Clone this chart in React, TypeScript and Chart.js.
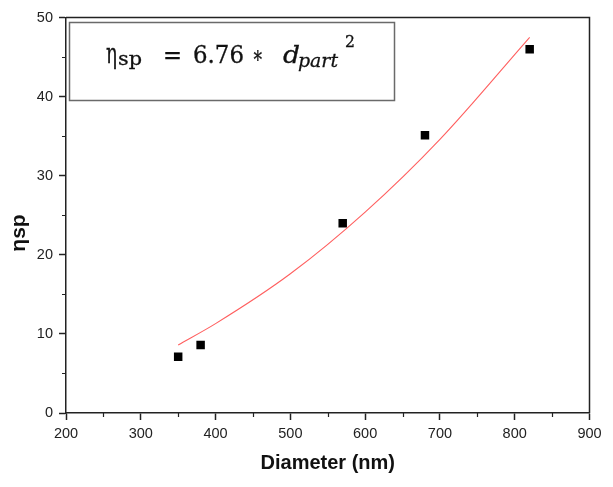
import { useEffect, useRef } from 'react';
import { Chart, registerables } from 'chart.js';

Chart.register(...registerables);

// Measured data points (diameter in nm, specific viscosity)
const diameters = [350, 380, 570, 680, 820];
const etaSp = [7.1, 8.6, 24.0, 35.1, 46.0];

// Fitted curve
const fitDiameters = [350, 400, 500, 600, 700, 820];
const fitEta = [8.6, 11.3, 17.6, 25.4, 34.6, 47.5];

const xMajorTicks = [200, 300, 400, 500, 600, 700, 800, 900];
const xMinorTicks = [250, 350, 450, 550, 650, 750, 850];
const yMajorTicks = [0, 10, 20, 30, 40, 50];
const yMinorTicks = [5, 15, 25, 35, 45];

const xTitle = 'Diameter (nm)';
const yTitle = 'ηsp';

// Formula pieces: text, font, left x, target width, baseline
const formulaPieces: [string, string, number, number, number][] = [
  ['η', '27px "DejaVu Serif"', 106, 11, 62.5],
  ['sp', '19px "DejaVu Serif"', 118, 24, 64.5],
  ['=', '24px "DejaVu Serif"', 163, 19, 62.5],
  ['6.76', '23.5px "DejaVu Serif"', 193, 51, 62.5],
  ['∗', '24px "DejaVu Serif"', 252, 11.5, 62.5],
  ['d', 'italic 24px "DejaVu Serif"', 283, 17, 62.5],
  ['part', 'italic 19px "DejaVu Serif"', 298, 40, 67],
  ['2', '17px "DejaVu Serif"', 345, 10, 47],
];

const decorPlugin = {
  id: 'decor',
  afterDraw(chart: any) {
    const { ctx, chartArea, scales } = chart;
    const xs = scales.x;
    const ys = scales.y;
    ctx.save();
    // frame top and right
    ctx.strokeStyle = '#222';
    ctx.lineWidth = 1.5;
    ctx.beginPath();
    ctx.moveTo(chartArea.left, chartArea.top);
    ctx.lineTo(chartArea.right, chartArea.top);
    ctx.lineTo(chartArea.right, chartArea.bottom);
    ctx.stroke();
    // minor ticks
    ctx.lineWidth = 1.2;
    ctx.beginPath();
    for (const v of xMinorTicks) {
      const px = Math.round(xs.getPixelForValue(v)) + 0.5;
      ctx.moveTo(px, chartArea.bottom);
      ctx.lineTo(px, chartArea.bottom + 4);
    }
    for (const v of yMinorTicks) {
      const py = Math.round(ys.getPixelForValue(v)) + 0.5;
      ctx.moveTo(chartArea.left, py);
      ctx.lineTo(chartArea.left - 4, py);
    }
    ctx.stroke();

    // formula box
    ctx.strokeStyle = '#6a6a6a';
    ctx.lineWidth = 1.5;
    ctx.strokeRect(69.5, 22.5, 325, 78);

    // formula text
    ctx.fillStyle = '#111';
    ctx.strokeStyle = '#111';
    ctx.lineWidth = 0.3;
    ctx.textBaseline = 'alphabetic';
    ctx.textAlign = 'left';
    for (const [text, font, x, w, base] of formulaPieces) {
      ctx.font = font;
      const mw = ctx.measureText(text).width;
      ctx.save();
      ctx.translate(x, base);
      ctx.scale(w / mw, 1);
      ctx.fillText(text, 0, 0);
      ctx.strokeText(text, 0, 0);
      ctx.restore();
    }

    // y title
    ctx.save();
    ctx.translate(19, 233);
    ctx.rotate(-Math.PI / 2);
    ctx.font = 'bold 21px "Liberation Sans", Arial, sans-serif';
    ctx.textAlign = 'center';
    ctx.textBaseline = 'middle';
    ctx.fillStyle = '#111';
    ctx.fillText(yTitle, 0, 0);
    ctx.restore();

    ctx.restore();
  },
};

export default function App() {
  const ref = useRef<HTMLCanvasElement | null>(null);

  useEffect(() => {
    if (!ref.current) return;
    const tickFont = { family: '"Liberation Sans", Arial, sans-serif', size: 14.5 };
    const chart = new Chart(ref.current, {
      type: 'scatter',
      data: {
        datasets: [
          {
            type: 'line',
            label: 'fit',
            data: fitDiameters.map((d, i) => ({ x: d, y: fitEta[i] })),
            borderColor: 'rgb(255, 95, 95)',
            borderWidth: 1.1,
            pointRadius: 0,
            cubicInterpolationMode: 'monotone',
            fill: false,
          } as any,
          {
            type: 'scatter',
            label: 'data',
            data: diameters.map((d, i) => ({ x: d, y: etaSp[i] })),
            pointStyle: 'rect',
            pointRadius: 6,
            backgroundColor: '#000',
            borderColor: '#000',
            borderWidth: 0,
          },
        ],
      },
      options: {
        responsive: false,
        animation: false,
        devicePixelRatio: 1,
        layout: { padding: { top: 17.5, right: 23.5, left: 0, bottom: 0 } },
        plugins: { legend: { display: false }, tooltip: { enabled: false } },
        scales: {
          x: {
            type: 'linear',
            min: 200,
            max: 900,
            afterFit: (s: any) => { s.height = 74; },
            afterBuildTicks: (s: any) => { s.ticks = xMajorTicks.map((v) => ({ value: v })); },
            ticks: { font: tickFont, color: '#222', padding: 5, maxRotation: 0 },
            grid: { drawOnChartArea: false, drawTicks: true, tickLength: 7, tickColor: '#222', tickWidth: 1.5 },
            border: { display: true, color: '#222', width: 1.5 },
            title: {
              display: true,
              text: xTitle,
              color: '#111',
              font: { family: '"Liberation Sans", Arial, sans-serif', size: 20, weight: 'bold', lineHeight: 1.2 },
              padding: { top: 0, bottom: 12 },
            },
          },
          y: {
            type: 'linear',
            min: 0,
            max: 50,
            afterFit: (s: any) => { s.width = 66; },
            afterBuildTicks: (s: any) => { s.ticks = yMajorTicks.map((v) => ({ value: v })); },
            ticks: { font: tickFont, color: '#222', padding: 6 },
            grid: { drawOnChartArea: false, drawTicks: true, tickLength: 7, tickColor: '#222', tickWidth: 1.5 },
            border: { display: true, color: '#222', width: 1.5 },
          },
        },
      } as any,
      plugins: [decorPlugin],
    });
    return () => chart.destroy();
  }, []);

  return (
    <div style={{ position: 'fixed', left: 0, top: 0, width: 613, height: 487, background: '#fff' }}>
      <canvas ref={ref} width={613} height={487} style={{ width: 613, height: 487, display: 'block' }} />
    </div>
  );
}
